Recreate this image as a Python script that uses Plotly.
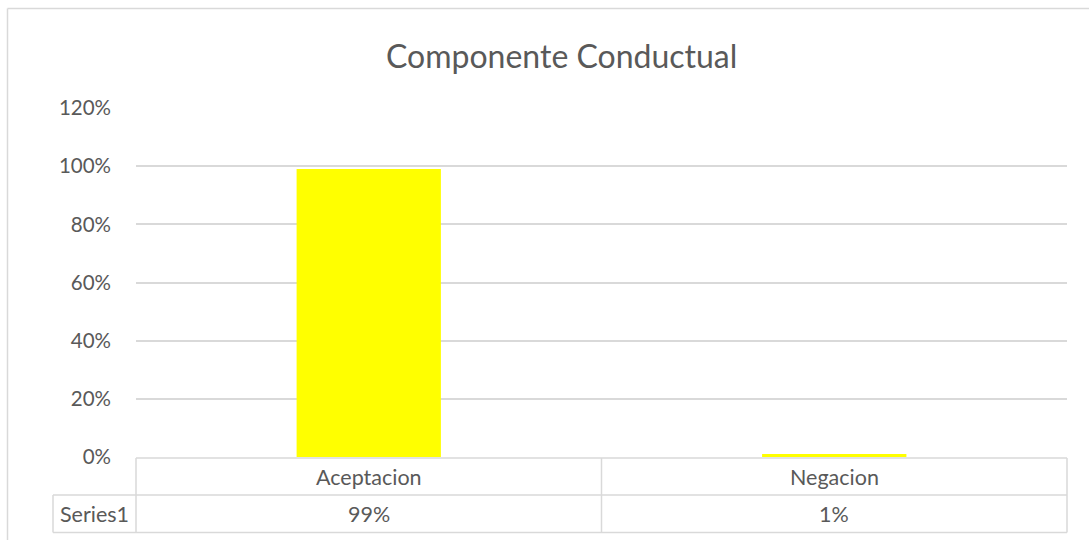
import plotly.graph_objects as go

categories = ["Aceptacion", "Negacion"]
values = [0.99, 0.01]
series_name = "Series1"
value_labels = ["99%", "1%"]
y_ticks = [0, 0.2, 0.4, 0.6, 0.8, 1.0, 1.2]
title = "Componente Conductual"

W, H = 1089, 540
L, R, T, B = 136, 1067, 108, 457
GRID = "#d9d9d9"
TXT = "#595959"
FONT = "Lato, 'Open Sans', sans-serif"

def px(x):
    return (x - L) / (R - L)

def py(y):
    return (B - y) / (B - T)

fig = go.Figure()
fig.add_trace(go.Bar(x=categories, y=values, marker=dict(color="#FFFF00", line=dict(width=0)),
                     width=0.31, name=series_name, showlegend=False))

shapes = []
def line(x0, y0, x1, y1, w=1.5):
    shapes.append(dict(type="line", xref="paper", yref="paper", x0=px(x0), y0=py(y0), x1=px(x1), y1=py(y1),
                       line=dict(color=GRID, width=w), layer="above"))

# chart border
line(7.5, 8.5, 1095, 8.5, 1.5)
line(7.5, 8.5, 7.5, 545, 1.5)
# table
line(L, 458, R, 458)
line(53, 495, R, 495)
line(53, 532.5, R, 532.5)
line(53, 495, 53, 532.5)
line(L, 458, L, 532.5)
line(601.5, 458, 601.5, 532.5)
line(R, 458, R, 532.5)

FS = 21.5
def ann(text, xref, x, y, size=FS):
    return dict(text=text, xref=xref, yref="paper", x=x, y=py(y), xanchor="center", yanchor="middle",
                showarrow=False, font=dict(size=size, color=TXT, family=FONT))

annotations = [ann(series_name, "paper", px(94.5), 513.5)]
for c, lab in zip(categories, value_labels):
    annotations.append(ann(c, "x", c, 476.5))
    annotations.append(ann(lab, "x", c, 513.5))
annotations.append(ann(title, "paper", px(561), 55, 32))

fig.update_layout(
    width=W, height=H,
    margin=dict(l=L, r=W - R, t=T, b=H - B, pad=0),
    paper_bgcolor="white", plot_bgcolor="white",
    shapes=shapes, annotations=annotations,
    xaxis=dict(showticklabels=False, showgrid=False, zeroline=False, showline=False, ticks=""),
    yaxis=dict(range=[0, 1.2], tickvals=y_ticks, tickformat=".0%", showgrid=True, gridcolor=GRID,
               gridwidth=1.5, zeroline=False, showline=False, ticks="", ticklabelstandoff=24,
               tickfont=dict(size=20.5, color=TXT, family=FONT)),
    bargap=0.69,
)

fig.write_html("out.html", config={"displayModeBar": False},
               post_script="document.body.style.margin='0';document.body.style.overflow='hidden';")
